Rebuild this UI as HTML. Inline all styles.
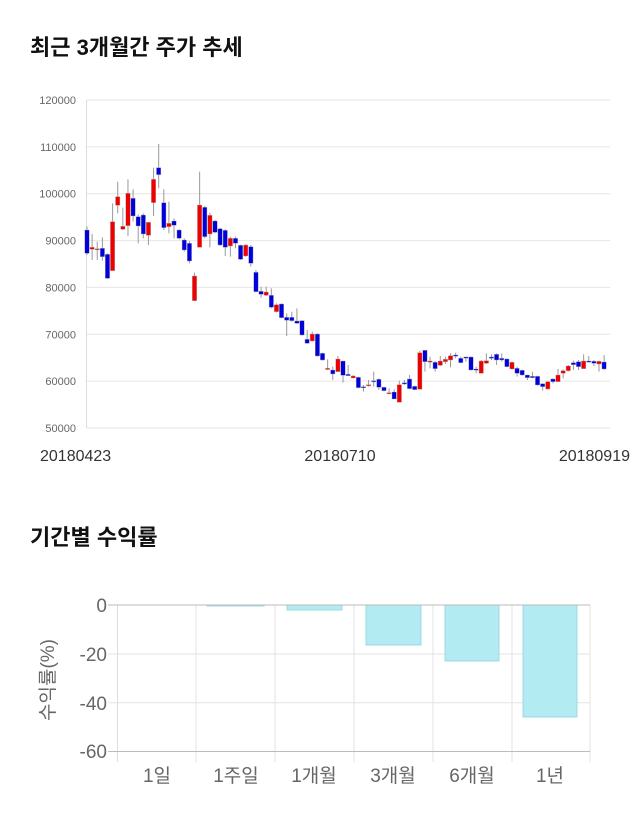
<!DOCTYPE html>
<html><head><meta charset="utf-8"><style>
body{margin:0;background:#fff;width:640px;height:810px;overflow:hidden}
svg text{font-family:"Liberation Sans","Noto Sans CJK KR",sans-serif}
</style></head><body>
<svg id="s" width="640" height="810" xmlns="http://www.w3.org/2000/svg">
<text x="30" y="55" font-size="22" font-weight="bold" fill="#111">최근 3개월간 주가 추세</text>
<text x="30" y="545" font-size="22" font-weight="bold" fill="#111">기간별 수익률</text>
<g id="grid1" stroke="#e6e6e6" stroke-width="1"></g>
<g id="yl1" font-size="11" fill="#666" text-anchor="end"></g>
<line x1="86.5" y1="100" x2="86.5" y2="428" stroke="#ddd"/>
<g id="c"></g>
<g font-size="16" fill="#333">
<text x="40" y="461">20180423</text>
<text x="340" y="461" text-anchor="middle">20180710</text>
<text x="630" y="461" text-anchor="end">20180919</text>
</g>
<!-- bar chart -->
<g stroke="#e3e3e3">
<line x1="108" y1="654" x2="590" y2="654"/>
<line x1="108" y1="702.7" x2="590" y2="702.7"/>
<line x1="196" y1="605" x2="196" y2="762"/>
<line x1="275" y1="605" x2="275" y2="762"/>
<line x1="354" y1="605" x2="354" y2="762"/>
<line x1="433" y1="605" x2="433" y2="762"/>
<line x1="512" y1="605" x2="512" y2="762"/>
<line x1="590" y1="605" x2="590" y2="762"/>
</g>
<line x1="117.5" y1="605" x2="117.5" y2="762" stroke="#ddd"/>
<g fill="#b2ebf2" stroke="#9fd8e0">
<rect x="207" y="605" width="57" height="1"/>
<rect x="287" y="605" width="55" height="5"/>
<rect x="366" y="605" width="55" height="40"/>
<rect x="445" y="605" width="54" height="56"/>
<rect x="523" y="605" width="54" height="112"/>
</g>
<line x1="108" y1="605" x2="590" y2="605" stroke="#bbb"/>
<line x1="108" y1="751.5" x2="590" y2="751.5" stroke="#bbb"/>
<g font-size="19" fill="#666" text-anchor="end">
<text x="107" y="612">0</text>
<text x="107" y="661">-20</text>
<text x="107" y="710">-40</text>
<text x="107" y="758">-60</text>
</g>
<g font-size="19" fill="#666" text-anchor="middle">
<text x="157" y="782">1일</text>
<text x="236" y="782">1주일</text>
<text x="314" y="782">1개월</text>
<text x="393" y="782">3개월</text>
<text x="472" y="782">6개월</text>
<text x="550" y="782">1년</text>
</g>
<text transform="translate(54,680) rotate(-90)" font-size="19" fill="#666" text-anchor="middle">수익률(%)</text>
</svg>
<script>
var NS="http://www.w3.org/2000/svg";
function el(p,t,a){var e=document.createElementNS(NS,t);for(var k in a)e.setAttribute(k,a[k]);p.appendChild(e);return e;}
var g1=document.getElementById('grid1'),yl=document.getElementById('yl1');
for(var i=0;i<8;i++){var y=100+i*328/7;el(g1,'line',{x1:87,y1:y,x2:610,y2:y});
var t=el(yl,'text',{x:76,y:y+4});t.textContent=(120000-i*10000);}
var A=[[300,370,290,375,'b'],[352,358,312,390,'r'],[356,359,335,390,'r'],[355,380,322,392,'b'],[373,445,370,447,'b'],[275,422,220,422,'r'],[200,226,155,250,'r'],[289,298,233,300,'r'],[190,287,148,318,'r'],[205,258,178,275,'b'],[260,288,253,340,'b'],[255,312,250,325,'b'],[277,316,277,345,'r'],[148,218,113,258,'r'],[113,134,42,175,'b'],[218,293,178,300,'b'],[280,290,215,310,'r'],[273,286,265,325,'b'],[300,325,298,328,'b'],[330,360,325,365,'b'],[340,393,333,400,'b'],[438,512,428,512,'r'],[225,352,125,352,'r'],[232,320,228,325,'b'],[256,312,248,352,'r'],[273,307,270,310,'b'],[296,345,294,348,'b'],[301,352,298,378,'b'],[325,348,320,380,'r'],[325,340,320,355,'b'],[346,388,344,390,'b'],[345,378,343,380,'r'],[350,400,345,410,'b'],[427,485,420,487,'b'],[484,493,470,503,'b'],[486,496,470,498,'r'],[496,532,475,535,'b'],[524,545,520,547,'r'],[522,563,520,565,'b'],[562,571,550,618,'b'],[562,572,545,575,'b'],[573,580,535,582,'b'],[572,615,570,617,'b'],[628,640,600,642,'b'],[612,633,605,635,'r'],[612,678,610,680,'b'],[670,690,668,692,'b']];
var B=[[235,237,208,240,'r'],[240,252,230,270,'b'],[207,245,198,245,'r'],[213,256,213,278,'b'],[253,257,225,257,'b'],[258,264,255,265,'r'],[262,293,260,295,'b'],[290,292,285,305,'b'],[284,287,270,290,'r'],[272,274,245,290,'b'],[268,292,265,300,'b'],[292,302,290,304,'b'],[308,311,295,312,'r'],[306,327,298,327,'b'],[284,337,272,337,'r'],[278,282,270,285,'b'],[267,296,255,298,'b'],[289,299,287,300,'b'],[188,298,182,298,'r'],[181,215,180,245,'b'],[213,216,200,235,'r'],[217,236,213,245,'b'],[213,226,198,228,'r'],[208,215,200,222,'r'],[197,210,190,232,'r'],[195,198,188,205,'b'],[205,218,200,220,'b'],[201,203,200,215,'b'],[201,240,199,242,'b'],[237,240,230,250,'b'],[213,250,210,250,'r'],[212,220,190,222,'r'],[201,205,193,210,'b'],[193,210,190,225,'b'],[205,210,190,215,'b'],[207,230,205,232,'b'],[217,237,215,239,'r'],[235,250,230,260,'b'],[241,255,239,257,'b'],[255,263,255,270,'b'],[259,263,245,265,'b'],[259,285,257,287,'b'],[281,290,280,302,'b'],[275,297,273,299,'r'],[267,275,265,280,'b'],[255,275,237,275,'r'],[242,250,238,265,'r'],[228,242,225,245,'r'],[218,224,212,240,'b'],[215,230,210,240,'b'],[213,236,193,236,'r'],[213,215,198,218,'b'],[214,220,210,228,'b'],[214,222,212,245,'r'],[216,237,195,240,'b']];
var C=[];A.forEach(function(d){C.push([130+d[0]/3,130+d[1]/3,130+d[2]/3,130+d[3]/3,d[4]]);});
B.forEach(function(d){C.push([290+d[0]/3,290+d[1]/3,290+d[2]/3,290+d[3]/3,d[4]]);});
var cg=document.getElementById('c');
C.forEach(function(d,i){var x=87+i*5.12;
el(cg,'line',{x1:x,y1:d[2],x2:x,y2:d[3],stroke:'#999','stroke-width':1});
var h=Math.max(d[1]-d[0],1.2);
el(cg,'rect',{x:x-2.2,y:d[0],width:4.4,height:h,fill:d[4]=='r'?'#ee0000':'#0000dd',stroke:'#aaa','stroke-width':0.4});});
</script>
</body></html>
